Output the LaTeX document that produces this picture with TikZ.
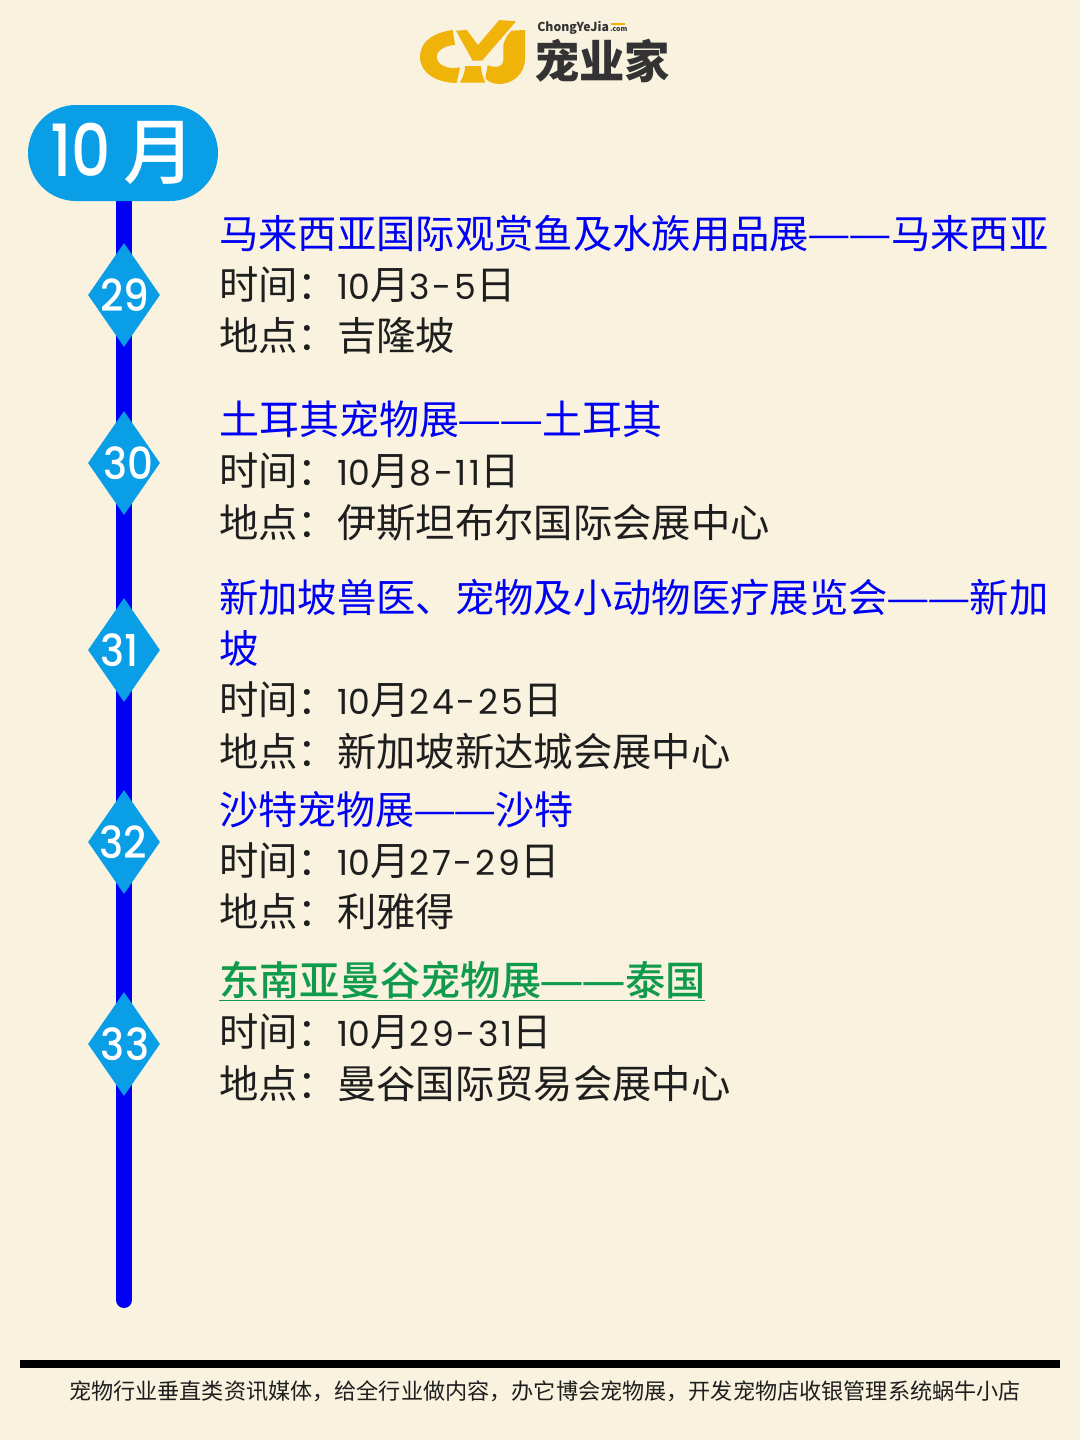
\documentclass[tikz,border=0pt]{standalone}
\usepackage{graphicx}
\usepackage{fontspec}
\setmainfont{Noto Sans CJK SC}
\newfontfamily\latinf{Poppins}
\newfontfamily\latins[LetterSpace=8]{Poppins}
\newfontfamily\latinm{Poppins Medium}
\newfontfamily\cjkm{Noto Sans CJK SC Medium}
\usetikzlibrary{shapes.geometric}
\definecolor{bgc}{HTML}{F8F2DF}
\definecolor{azure}{HTML}{0A9EE6}
\definecolor{lineblue}{HTML}{0000F5}
\definecolor{linkgreen}{HTML}{0F9A4C}
\definecolor{ink}{HTML}{1E1E1E}
\definecolor{logoink}{HTML}{333333}
\definecolor{gold}{HTML}{EFB30A}
\newcommand{\dgt}[1]{{\latinf\fontsize{26pt}{30pt}\selectfont #1}}
\newcommand{\dgs}[1]{{\latins\fontsize{26pt}{30pt}\selectfont #1}}
\newcommand{\dbl}{\makebox[1.04em][c]{\scalebox{1.24}[1]{—}}\makebox[1.04em][c]{\scalebox{1.24}[1]{—}}}
\newcommand{\dnum}[2]{\makebox[0pt][c]{\hspace*{#1}\scalebox{.92}[1]{#2}}}
\tikzset{x=0.75pt,y=-0.75pt,
 tt/.style={anchor=base west,inner sep=0,font=\fontsize{29.5pt}{32pt}\selectfont},
 title/.style={tt,text=lineblue},
 body/.style={tt,text=ink},
 dia/.style={diamond,fill=azure,minimum width=54pt,minimum height=78pt,inner sep=0,aspect=0.7,text=white,font=\latinm\fontsize{33pt}{33pt}\selectfont}}
\begin{document}
\begin{tikzpicture}
\useasboundingbox (0,0) rectangle (1080,1440);
\fill[bgc] (0,0) rectangle (1080,1440);
% logo mark
\begin{scope}[shift={(410,10)},scale=1/3]
\fill[gold] (128,60) .. controls (70,68) and (30,95) .. (30,140) .. controls (30,190) and (80,218) .. (140,219) -- (150,172) .. controls (115,180) and (80,165) .. (80,140) .. controls (80,120) and (110,105) .. (135,105) -- cycle;
\fill[gold] (138,62) -- (170,60) -- (204,105) -- (268,30) -- (318,34) -- (216,152) -- (188,152) -- cycle;
\fill[gold] (150,218) .. controls (160,200) and (165,185) .. (165,168) -- (213,168) .. controls (213,185) and (218,200) .. (226,218) -- cycle;
\fill[gold] (345,60) -- (345,145) .. controls (345,195) and (305,222) .. (268,222) .. controls (250,222) and (235,215) .. (226,205) -- (233,165) .. controls (245,172) and (278,178) .. (280,150) -- (280,105) .. controls (285,85) and (295,70) .. (305,62) -- cycle;
\end{scope}
\node[anchor=base west,inner sep=0,text=logoink,font=\bfseries\fontsize{9.2pt}{9.2pt}\selectfont] (brand) at (537,31) {ChongYeJia};
\node[anchor=base west,inner sep=0,text=logoink,font=\bfseries\fontsize{5.2pt}{5.2pt}\selectfont] (dotcom) at (610,31) {.com};
\fill[gold] (611,23) rectangle (625,24.5);
\node[anchor=base west,inner sep=0,text=logoink,font=\bfseries\fontsize{34pt}{34pt}\selectfont] (cname) at (534,78) {宠业家};
\coordinate (top) at (124,190);
\coordinate (bot) at (124,1300);
\draw[lineblue,line width=12pt,line cap=round] (top) -- (bot);
\node[fill=azure,rounded corners=36pt,minimum width=142.5pt,minimum height=72pt,inner sep=0,text=white,font=\cjkm\fontsize{54pt}{54pt}\selectfont] (month) at (123,153) {\raisebox{1.5pt}{\scalebox{.85}[1]{\latinm\fontsize{54pt}{54pt}\selectfont 10}}\hspace{10pt}月};
\node[dia] (d29) at (124,295) {\dnum{1.5pt}{29}};
\node[dia] (d30) at (124,463) {\dnum{6pt}{30}};
\node[dia] (d31) at (124,650) {\dnum{-6pt}{31}};
\node[dia] (d32) at (124,842) {\dnum{-1pt}{32}};
\node[dia] (d33) at (124,1044) {\dnum{1.5pt}{33}};
\node[title] (a1) at (219,248) {马来西亚国际观赏鱼及水族用品展\dbl 马来西亚};
\node[body] (a2) at (219,299) {时间：\dgt{10}月\dgs{3-5}日};
\node[body] (a3) at (219,350) {地点：吉隆坡};
\node[title,font=\fontsize{30pt}{32pt}\selectfont] (b1) at (219,434) {土耳其宠物展\dbl 土耳其};
\node[body] (b2) at (219,485) {时间：\dgt{10}月\dgs{8-11}日};
\node[body] (b3) at (219,537) {地点：伊斯坦布尔国际会展中心};
\node[title] (c1) at (219,612) {新加坡兽医、宠物及小动物医疗展览会\dbl 新加};
\node[title] (c2) at (219,663) {坡};
\node[body] (c3) at (219,714) {时间：\dgt{10}月\dgs{24-25}日};
\node[body] (c4) at (219,766) {地点：新加坡新达城会展中心};
\node[title,font=\fontsize{29.3pt}{32pt}\selectfont] (e1) at (219,824) {沙特宠物展\dbl 沙特};
\node[body] (e2) at (219,875) {时间：\dgt{10}月\dgs{27-29}日};
\node[body] (e3) at (219,926) {地点：利雅得};
\node[title,text=linkgreen,font=\cjkm\fontsize{30.2pt}{32pt}\selectfont] (f1) at (219,995) {东南亚曼谷宠物展\dbl 泰国};
\node[body] (f2) at (219,1046) {时间：\dgt{10}月\dgs{29-31}日};
\node[body] (f3) at (219,1098) {地点：曼谷国际贸易会展中心};
\draw[linkgreen,line width=0.75pt] (219,1000.5) -- (705,1000.5);
\fill[black] (20,1360) rectangle (1060,1368);
\node[anchor=base,inner sep=0,text=ink,font=\fontsize{16.6pt}{18pt}\selectfont] (foot) at (545,1399) {宠物行业垂直类资讯媒体，给全行业做内容，办它博会宠物展，开发宠物店收银管理系统蜗牛小店};
\end{tikzpicture}
\end{document}
